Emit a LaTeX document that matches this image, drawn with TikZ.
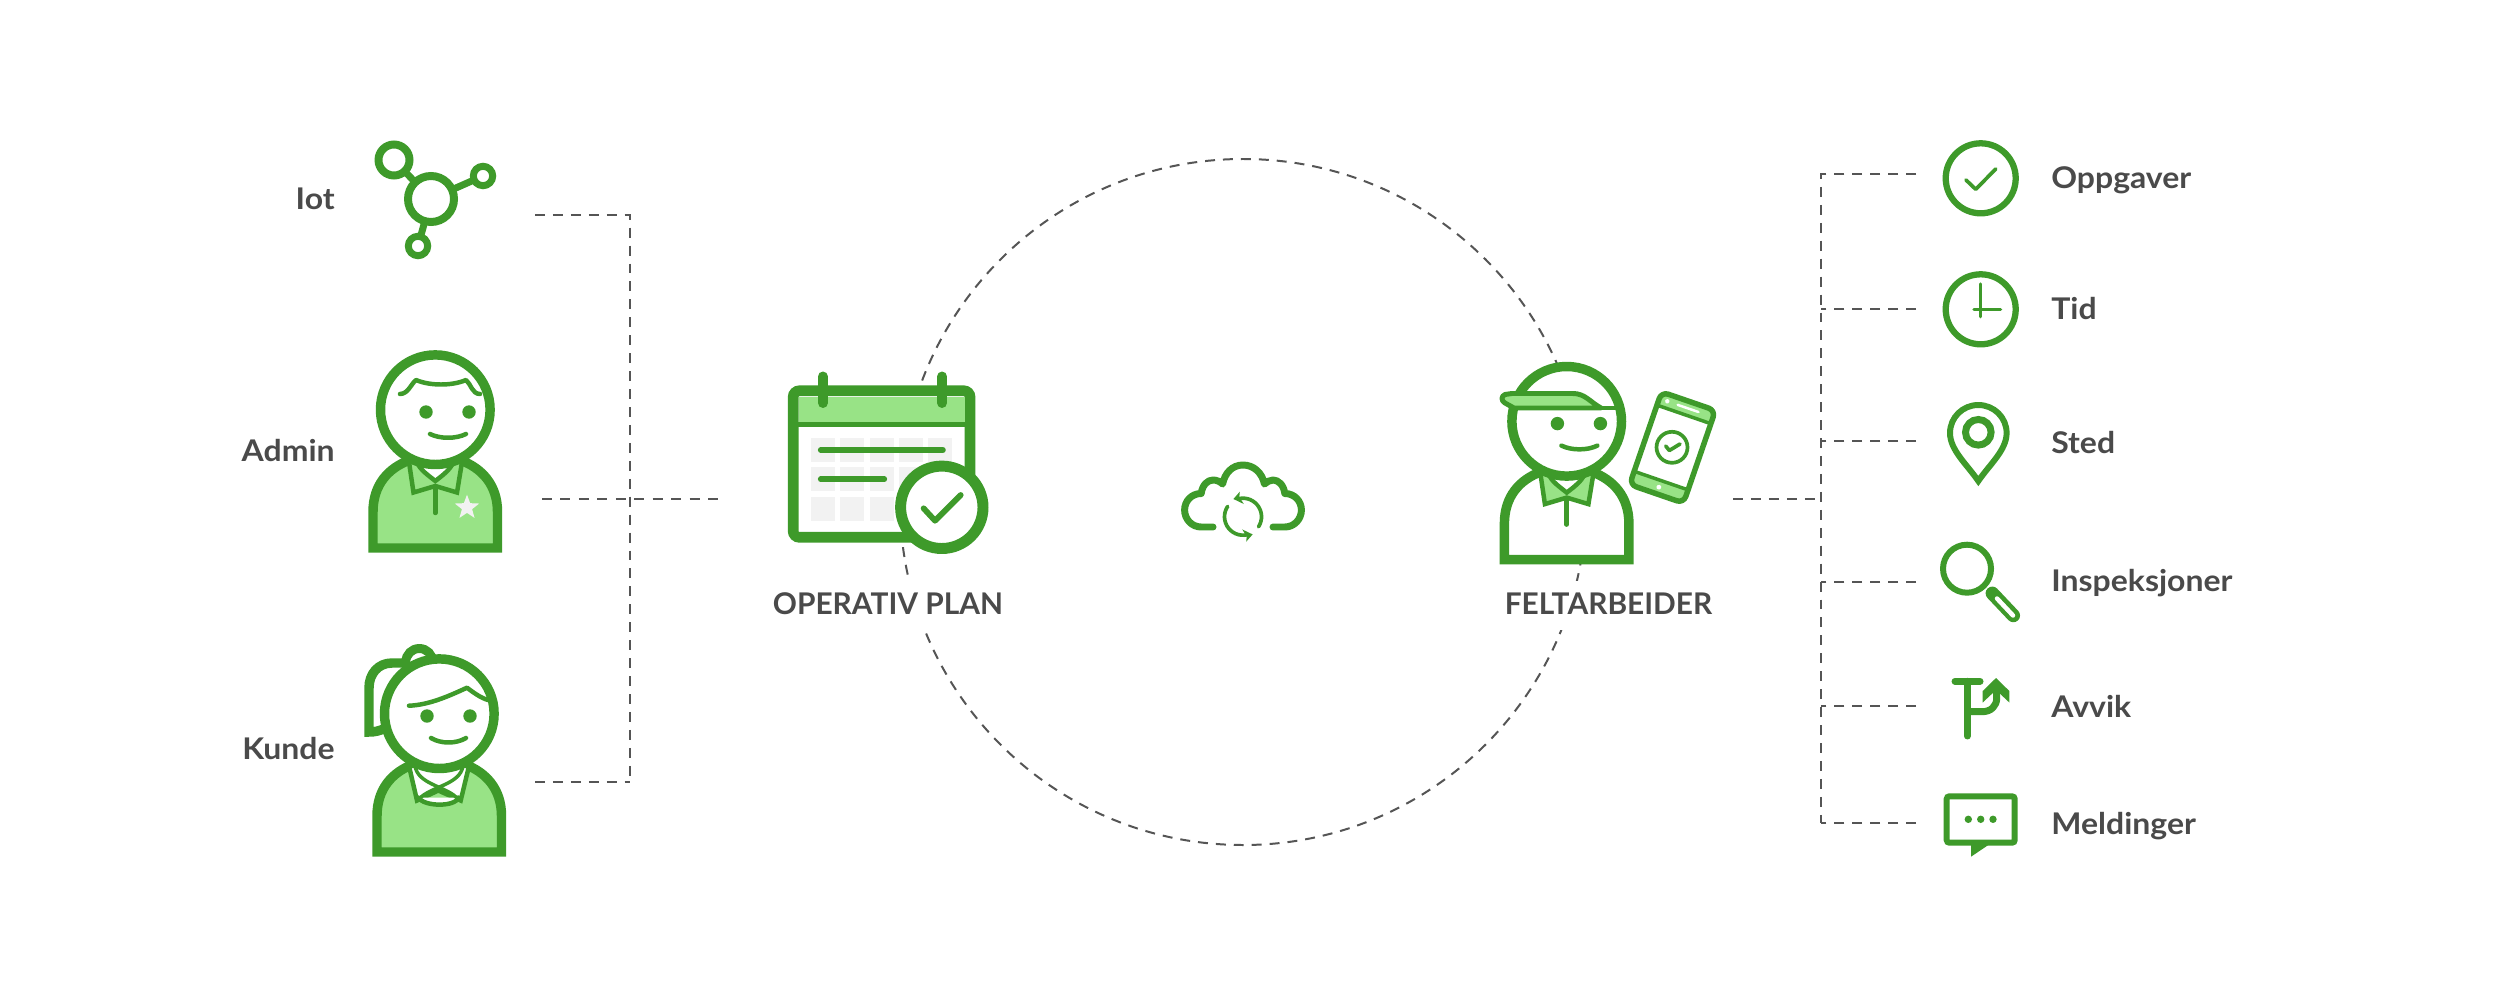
\documentclass[tikz,border=0pt]{standalone}
\usepackage{fontspec}
\setmainfont{Lato}
\newfontfamily\lblfont{Lato}[FakeStretch=1.07]
\usetikzlibrary{shapes.geometric}
\definecolor{gr}{HTML}{3E9A2A}
\definecolor{lg}{HTML}{98E386}
\definecolor{tx}{HTML}{4A4A4A}
\definecolor{da}{HTML}{555555}
\definecolor{ce}{HTML}{F2F2F2}
\tikzset{
  lw/.style={line width=#1*0.5669pt},
  ln/.style={draw=gr,lw=#1,line cap=round,line join=round},
  ol/.style={draw=gr,lw=#1,line cap=butt,line join=miter},
  dsh/.style={draw=da,lw=2,dash pattern=on 5.67pt off 4.54pt},
  lab/.style={text=tx,font=\lblfont\fontsize{17}{20}\selectfont\bfseries,inner sep=0pt},
  labw/.style={lab,anchor=base west},
  labe/.style={lab,anchor=base east},
  capt/.style={text=tx,font=\fontsize{17}{20}\selectfont\bfseries,inner sep=0pt,anchor=base,fill=white,text height=18.7pt,text depth=9pt},
}
\newcommand{\manbody}[2]{%
  \path[ol=9.5,fill=#1] (373,548) -- (373,512) .. controls (373,485) and (388,468) .. (410,460) -- (460,460) .. controls (482,468) and (497.5,485) .. (497.5,512) -- (497.5,548) -- cycle;
  \path[ol=4.5,fill=#2] (409,462) -- (413.5,492.5) -- (435.3,486) -- (457,492.5) -- (462,462) -- cycle;
  \path[ol=4.5,fill=white] (417,462) .. controls (420,470) and (428,475) .. (435.3,481) .. controls (443,475) and (450,470) .. (453.5,462) -- cycle;
  \draw[ln=4.5] (435.3,487) -- (435.3,513);
  \path[ol=9.5,fill=white] (435.3,409.7) circle[radius=54.8];
  \fill[gr] (426,412) circle[radius=6.7] (469,412) circle[radius=6.7];
  \draw[ln=4.5] (430,434) .. controls (440,439) and (456,439) .. (466,434);
}
\begin{document}
\begin{tikzpicture}[x=0.02cm,y=-0.02cm]
\useasboundingbox (0,0) rectangle (2500,1000);
\fill[white] (0,0) rectangle (2500,1000);

% big dashed circle
\coordinate (cc) at (1243,502);
\draw[dsh] (cc) circle[radius=343];

% captions hide the circle
\node[capt] (planlabel) at (888,614.3) {OPERATIV PLAN};
\node[capt] (feltlabel) at (1608.5,614.3) {FELTARBEIDER};

% left connectors
\coordinate (iotend) at (535,215);
\coordinate (leftcorner) at (630,215);
\coordinate (kundecorner) at (630,782);
\coordinate (kundeend) at (535,782);
\coordinate (adminend) at (542,499);
\coordinate (planend) at (719,499);
\draw[dsh] (iotend) -- (leftcorner) -- (kundecorner);
\draw[dsh] (kundeend) -- (kundecorner);
\draw[dsh,dash pattern=on 5.67pt off 4.83pt] (adminend) -- (planend);

% right connectors
\coordinate (feltend) at (1733,499);
\coordinate (rightjoin) at (1821.3,499);
\coordinate (rt) at (1821.3,174);
\coordinate (rb) at (1821.3,823.3);
\coordinate (e1) at (1916,174);
\coordinate (r2) at (1821.3,309);
\coordinate (e2) at (1916,309);
\coordinate (r3) at (1821.3,440.7);
\coordinate (e3) at (1916,440.7);
\coordinate (r4) at (1821.3,582);
\coordinate (e4) at (1916,582);
\coordinate (r5) at (1821.3,706.3);
\coordinate (e5) at (1916,706.3);
\coordinate (e6) at (1916,823.3);
\draw[dsh] (e1) -- (rt) -- (rb);
\draw[dsh] (e6) -- (rb);
\draw[dsh] (e2) -- (r2);
\draw[dsh] (e3) -- (r3);
\draw[dsh] (e4) -- (r4);
\draw[dsh] (e5) -- (r5);
\draw[dsh] (feltend) -- (rightjoin);

% left labels
\node[labe] (iotlabel) at (335,210) {Iot};
\node[labe] (adminlabel) at (335,461) {Admin};
\node[labe] (kundelabel) at (335,759.5) {Kunde};

% iot icon
\draw[ln=7] (394,160) -- (431,199) -- (483,176);
\draw[ln=7] (431,199) -- (418,246);
\path[ol=8,fill=white] (431,199) circle[radius=23];
\path[ol=8,fill=white] (394,160) circle[radius=15.5];
\path[ol=7,fill=white] (483,176) circle[radius=9.7];
\path[ol=7,fill=white] (418,246) circle[radius=9.7];

% admin
\manbody{lg}{lg}
\draw[ln=4.5] (400,394) .. controls (408,394) and (411,384) .. (416,380) .. controls (430,386) and (452,386) .. (466,380) .. controls (471,384) and (472,394) .. (480,394);
\node[star,star points=5,star point ratio=2.4,fill=ce,draw=none,minimum size=14.6pt,inner sep=0pt] (adminstar) at (467,507.5) {};

% kunde
\path[ol=9.5,fill=white] (406,663) -- (392,663) .. controls (378,663) and (369,674) .. (369,688) -- (369,732) .. controls (375,732) and (379,731) .. (386,728);
\path[ol=9,fill=white] (419.3,662) circle[radius=13.5];
\begin{scope}[shift={(4,304)}]
  \path[ol=9.5,fill=lg] (373,548) -- (373,512) .. controls (373,485) and (388,468) .. (410,460) -- (460,460) .. controls (482,468) and (497.5,485) .. (497.5,512) -- (497.5,548) -- cycle;
  \path[ol=4.5,fill=white] (405,462) -- (413,496.5) -- (434.3,486.5) -- (456.7,496.5) -- (465,462) -- cycle;
  \path[ln=4.5,fill=white] (414.3,493.5) .. controls (420,503) and (452,503) .. (454.3,493.5);
  \draw[ln=3.5] (411,462) .. controls (414,480) and (440,482) .. (452,493);
  \draw[ln=3.5] (459,462) .. controls (456,480) and (430,482) .. (417,493);
  \path[ol=9.5,fill=white] (435.3,409.7) circle[radius=54.8];
  \fill[gr] (423,412) circle[radius=6.7] (466,412) circle[radius=6.7];
  \draw[ln=4.5] (427,434) .. controls (437,440) and (452,440) .. (462,434);
  \draw[ln=4.5] (405,401.7) .. controls (425,401) and (445,392) .. (463,383.7) .. controls (470,389) and (477,394) .. (484,396);
\end{scope}

% calendar
\path[ol=10.7,fill=white,rounded corners=3.5pt] (793.2,390.8) rectangle (970,537.3);
\fill[lg] (798.5,396.5) rectangle (964.6,424);
\foreach \cx in {811,840.4,869.6,898.9,928.2}{
  \foreach \cy in {438.3,467.3,496.7}{
    \fill[ce] (\cx,\cy) rectangle ++(24,23.8);
  }
}
\draw[gr,lw=5.5] (798,424.5) -- (965,424.5);
\draw[ln=10] (822.9,376.5) -- (822.9,403);
\draw[ln=10] (942.1,376.5) -- (942.1,403);
\draw[ln=5.7] (820.7,450) -- (942.9,450);
\draw[ln=5.7] (820.7,479.3) -- (884.3,479.3);
\path[ol=11,fill=white] (941.8,507.3) circle[radius=41.2];
\draw[ln=5.8] (923.6,508.3) -- (935,520.7) -- (960.7,495);

% cloud
\draw[ln=7] (1213,527) -- (1201.2,527) .. controls (1191.6,527) and (1184.6,519) .. (1184.6,510) .. controls (1184.6,501) and (1191.6,493.5) .. (1201.2,493.5) .. controls (1202.3,485) and (1207.6,480) .. (1213,480) .. controls (1217.3,480) and (1220.5,482) .. (1222.6,484) .. controls (1224.8,473) and (1232.3,465) .. (1243,465) .. controls (1253.7,465) and (1262.3,473) .. (1264.4,484) .. controls (1266.6,482) and (1269.8,480) .. (1273,480) .. controls (1278.4,480) and (1283.7,485) .. (1284.8,493.5) .. controls (1294.4,493.5) and (1301.4,501) .. (1301.4,510) .. controls (1301.4,519) and (1294.4,527) .. (1284.8,527) -- (1273,527);
\draw[ln=3.7] plot[smooth,samples=16,domain=-103:33,variable=\t] ({1243+18.5*cos(\t)},{516.7+18.5*sin(\t)});
\draw[ln=3.7] plot[smooth,samples=16,domain=214:77,variable=\t] ({1243+18.5*cos(\t)},{516.7+18.5*sin(\t)});
\fill[gr] (1233.4,499) -- (1239.8,491.7) -- (1239.3,497) -- (1243.8,504) -- cycle;
\fill[gr] (1252.6,534.4) -- (1246.2,541.7) -- (1246.7,536.4) -- (1242.2,529.4) -- cycle;

% feltarbeider
\begin{scope}[shift={(1131.4,11.6)}]
  \manbody{white}{lg}
\end{scope}
\path[ln=5,fill=lg] (1512,393.5) -- (1573,393.5) .. controls (1585,393.5) and (1590,402) .. (1601,408) -- (1514,408) -- (1505,403) .. controls (1501,401) and (1501,396) .. (1505,394.5) -- cycle;
\draw[gr,lw=5] (1514,408) -- (1616,408);

% phone
\begin{scope}[shift={(1672.5,447.5)},rotate=-19]
  \path[fill=white,rounded corners=4pt] (-28.5,-49) rectangle (28.5,49);
  \path[ol=3.5,fill=lg] (-28.5,-35) -- (28.5,-35) -- (28.5,-42) .. controls (28.5,-46) and (25.5,-49) .. (21.5,-49) -- (-21.5,-49) .. controls (-25.5,-49) and (-28.5,-46) .. (-28.5,-42) -- cycle;
  \path[ol=3.5,fill=lg] (-28.5,35) -- (28.5,35) -- (28.5,42) .. controls (28.5,46) and (25.5,49) .. (21.5,49) -- (-21.5,49) .. controls (-25.5,49) and (-28.5,46) .. (-28.5,42) -- cycle;
  \draw[ln=5.5,rounded corners=4pt] (-28.5,-49) rectangle (28.5,49);
  \fill[white] (-20,-42) circle[radius=2.2] (0,42) circle[radius=2.4];
  \draw[white,lw=2.5,line cap=round] (-9,-42) -- (13,-42);
\end{scope}
\draw[ln=3.7] (1672,447.3) circle[radius=15.5];
\draw[ln=3.7] (1665.7,446) -- (1669.3,450.5) -- (1680,444);

% right icons
\draw[ol=6.3] (1980.7,178.3) circle[radius=35];
\draw[ln=3.7] (1966,180) -- (1975.7,189.3) -- (1995.7,169);
\draw[ol=6.3] (1980.7,309.3) circle[radius=35];
\draw[ln=3.5] (1980.7,284) -- (1980.7,316.7);
\draw[ln=3.5] (1974,309.3) -- (2000.5,309.3);
\draw[ol=6] (1978.3,405) .. controls (1993.9,405) and (2006.6,417.4) .. (2006.6,433) .. controls (2006.6,450) and (1990,464) .. (1978.3,481) .. controls (1966.6,464) and (1950,450) .. (1950,433) .. controls (1950,417.4) and (1962.7,405) .. (1978.3,405) -- cycle;
\draw[ol=7] (1978.3,432.3) circle[radius=12.8];
\draw[ln=13.5] (1992.3,593.3) -- (2013.3,615.5);
\draw[white,lw=4.5,line cap=round] (1997,598.5) -- (2013,615.5);
\draw[ol=6] (1967,568.7) circle[radius=24];
\draw[ln=7] (1955,681.3) -- (1980,681.3);
\draw[ln=7] (1967.3,681.3) -- (1967.3,736);
\draw[ln=7,line cap=butt] (1967.3,711.7) -- (1982,711.7) .. controls (1991,711.7) and (1996.7,706) .. (1996.7,698) -- (1996.7,686);
\fill[gr] (1996,678) -- (2009.3,691) -- (2009.3,702.5) -- (1996,690) -- (1982.7,702.5) -- (1982.7,691) -- cycle;
\path[ol=6,rounded corners=1.5pt] (1946.7,796.3) rectangle (2014.7,842.7);
\fill[gr] (1971,845) -- (1971,856.7) -- (1988.3,845) -- cycle;
\fill[gr] (1968.3,819.3) circle[radius=3.7] (1980.7,819.3) circle[radius=3.7] (1993,819.3) circle[radius=3.7];

% right labels
\node[labw] (l1) at (2051,188.5) {Oppgaver};
\node[labw] (l2) at (2051,319) {Tid};
\node[labw] (l3) at (2051,453.7) {Sted};
\node[labw] (l4) at (2051,591.7) {Inspeksjoner};
\node[labw] (l5) at (2051,717.8) {Avvik};
\node[labw] (l6) at (2051,834.3) {Meldinger};
\end{tikzpicture}
\end{document}
